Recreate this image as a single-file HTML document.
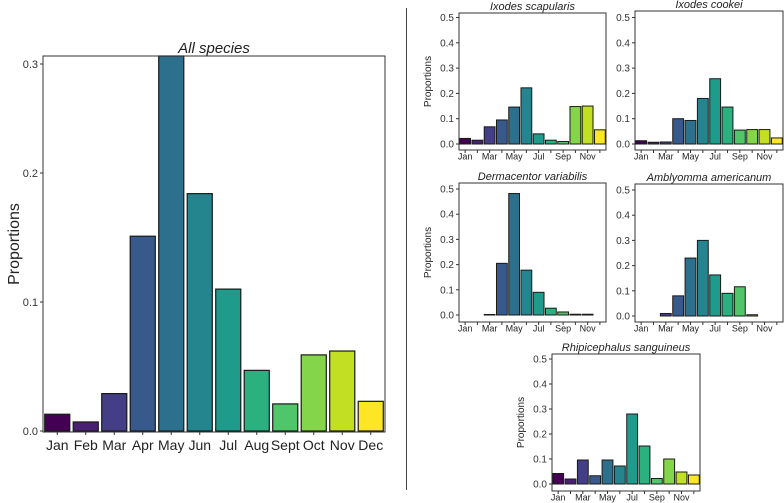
<!DOCTYPE html>
<html><head><meta charset="utf-8"><style>
html,body{margin:0;padding:0;background:#fff;}
svg{display:block;font-family:"Liberation Sans",sans-serif;}
</style></head><body>
<svg id="chart" width="784" height="503" viewBox="0 0 784 503">
<line x1="406.5" y1="8" x2="406.5" y2="490" stroke="#444" stroke-width="1"/>
</svg>
<script>
const monthsFull = ["Jan","Feb","Mar","Apr","May","Jun","Jul","Aug","Sept","Oct","Nov","Dec"];
const monthsShort = ["Jan","","Mar","","May","","Jul","","Sep","","Nov",""];
const colors = ["#440154","#482173","#433E85","#38598C","#2D708E","#25858E","#1E9B8A","#2BB07F","#51C56A","#85D54A","#C2DF23","#FDE725"];
const allSpecies = [0.013,0.007,0.029,0.151,0.310,0.184,0.110,0.047,0.021,0.059,0.062,0.023];
const scapularis = [0.022,0.015,0.068,0.095,0.146,0.222,0.040,0.015,0.010,0.148,0.150,0.056];
const cookei = [0.013,0.007,0.008,0.100,0.093,0.180,0.258,0.146,0.055,0.057,0.057,0.024];
const dermacentor = [0,0,0.002,0.205,0.482,0.178,0.090,0.027,0.012,0.003,0.003,0];
const amblyomma = [0,0,0.010,0.080,0.230,0.300,0.163,0.090,0.116,0.005,0,0];
const rhipicephalus = [0.042,0.020,0.096,0.033,0.096,0.072,0.280,0.152,0.022,0.100,0.048,0.036];
const mainTicks = [0.0,0.1,0.2,0.3];
const smallTicks = [0.0,0.1,0.2,0.3,0.4,0.5];

const svg = document.getElementById('chart');
const NS = "http://www.w3.org/2000/svg";
function mk(tag, attrs, parent){
  const e = document.createElementNS(NS, tag);
  for (const k in attrs) e.setAttribute(k, attrs[k]);
  (parent||svg).appendChild(e);
  return e;
}
function makeScale(vals, pix){
  return v => {
    let i = 0;
    while (i < vals.length - 2 && v > vals[i+1]) i++;
    const t = (v - vals[i]) / (vals[i+1] - vals[i]);
    return pix[i] + t * (pix[i+1] - pix[i]);
  };
}

function panel(o){
  const g = mk('g', {});
  
  
  const y = o.scale;
  const slot = (o.x1 - o.x0) / 12;
  o.data.forEach((v,i)=>{
    const bx = o.x0 + slot*i + slot*0.06;
    const by = Math.max(y(v), o.top);
    const y0 = y(0);
    const r = mk('rect', {x:bx, y:by, width:slot*0.88, height:Math.max(y0-by,0), fill:colors[i], stroke:'#1a1a1a', 'stroke-width':o.sw}, g);
    
    
  });
  const frame = mk('rect', {x:o.x0, y:o.top, width:o.x1-o.x0, height:o.bot-o.top, fill:'none', stroke:'#333', 'stroke-width':1}, g);
  
  
  o.ticks.forEach(t=>{
    const ty = y(t);
    mk('line', {x1:o.x0-3, x2:o.x0, y1:ty, y2:ty, stroke:'#333'}, g);
    const tl = mk('text', {x:o.x0-5, y:ty+o.tfs*0.35, 'text-anchor':'end', 'font-size':o.tfs, fill:'#333'}, g);
    tl.textContent = t.toFixed(1);
    
    
  });
  o.labels.forEach((m,i)=>{
    const cx = o.x0 + slot*(i+0.5);
    mk('line', {x1:cx, x2:cx, y1:o.bot, y2:o.bot+3, stroke:'#333'}, g);
    if (m){
      const xl = mk('text', {x:cx, y:o.bot+o.xoff, 'text-anchor':'middle', 'font-size':o.xfs, fill:'#222'}, g);
      xl.textContent = m;
      
      
    }
  });
  const title = mk('text', {x:(o.x0+o.x1)/2, y:o.top-3, 'text-anchor':'middle', 'font-size':o.titfs, 'font-style':'italic', fill:'#222'}, g);
  title.textContent = o.title;
  
  
  if (o.ylab){
    const yl = mk('text', {x:0, y:0, transform:'translate('+o.ylabX+','+((o.top+o.bot)/2)+') rotate(-90)', 'text-anchor':'middle', 'font-size':o.ylfs, fill:'#222'}, g);
    yl.textContent = 'Proportions';
    
    
  }
}
const lin = (y0, ppu) => (v => y0 - v * ppu);

panel({name:'all-species-panel', data:allSpecies, title:'All species', x0:43, x1:385, top:56, bot:432, scale:makeScale(mainTicks,[431,302,173,64]), ticks:mainTicks, labels:monthsFull, sw:1.2, tfs:11, xfs:14, xoff:18, titfs:15, ylab:true, ylabX:19, ylfs:16});
panel({name:'ixodes-scapularis-panel', data:scapularis, title:'Ixodes scapularis', x0:459, x1:606, top:13, bot:150, scale:lin(144,253), ticks:smallTicks, labels:monthsShort, sw:1, tfs:10, xfs:9, xoff:9.5, titfs:11, ylab:true, ylabX:431, ylfs:10});
panel({name:'ixodes-cookei-panel', data:cookei, title:'Ixodes cookei', x0:635, x1:783, top:11, bot:150, scale:lin(144,253), ticks:smallTicks, labels:monthsShort, sw:1, tfs:10, xfs:9, xoff:9.5, titfs:11, ylab:false});
panel({name:'dermacentor-variabilis-panel', data:dermacentor, title:'Dermacentor variabilis', x0:459, x1:606, top:183, bot:322, scale:lin(315,252), ticks:smallTicks, labels:monthsShort, sw:1, tfs:10, xfs:9, xoff:9.5, titfs:11, ylab:true, ylabX:431, ylfs:10});
panel({name:'amblyomma-americanum-panel', data:amblyomma, title:'Amblyomma americanum', x0:635, x1:783, top:184, bot:322, scale:lin(316,252), ticks:smallTicks, labels:monthsShort, sw:1, tfs:10, xfs:9, xoff:9.5, titfs:11, ylab:false});
panel({name:'rhipicephalus-sanguineus-panel', data:rhipicephalus, title:'Rhipicephalus sanguineus', x0:552, x1:700, top:354, bot:491, scale:lin(484,250), ticks:smallTicks, labels:monthsShort, sw:1, tfs:10, xfs:9, xoff:9.5, titfs:11, ylab:true, ylabX:524, ylfs:10});
</script>
</body></html>
